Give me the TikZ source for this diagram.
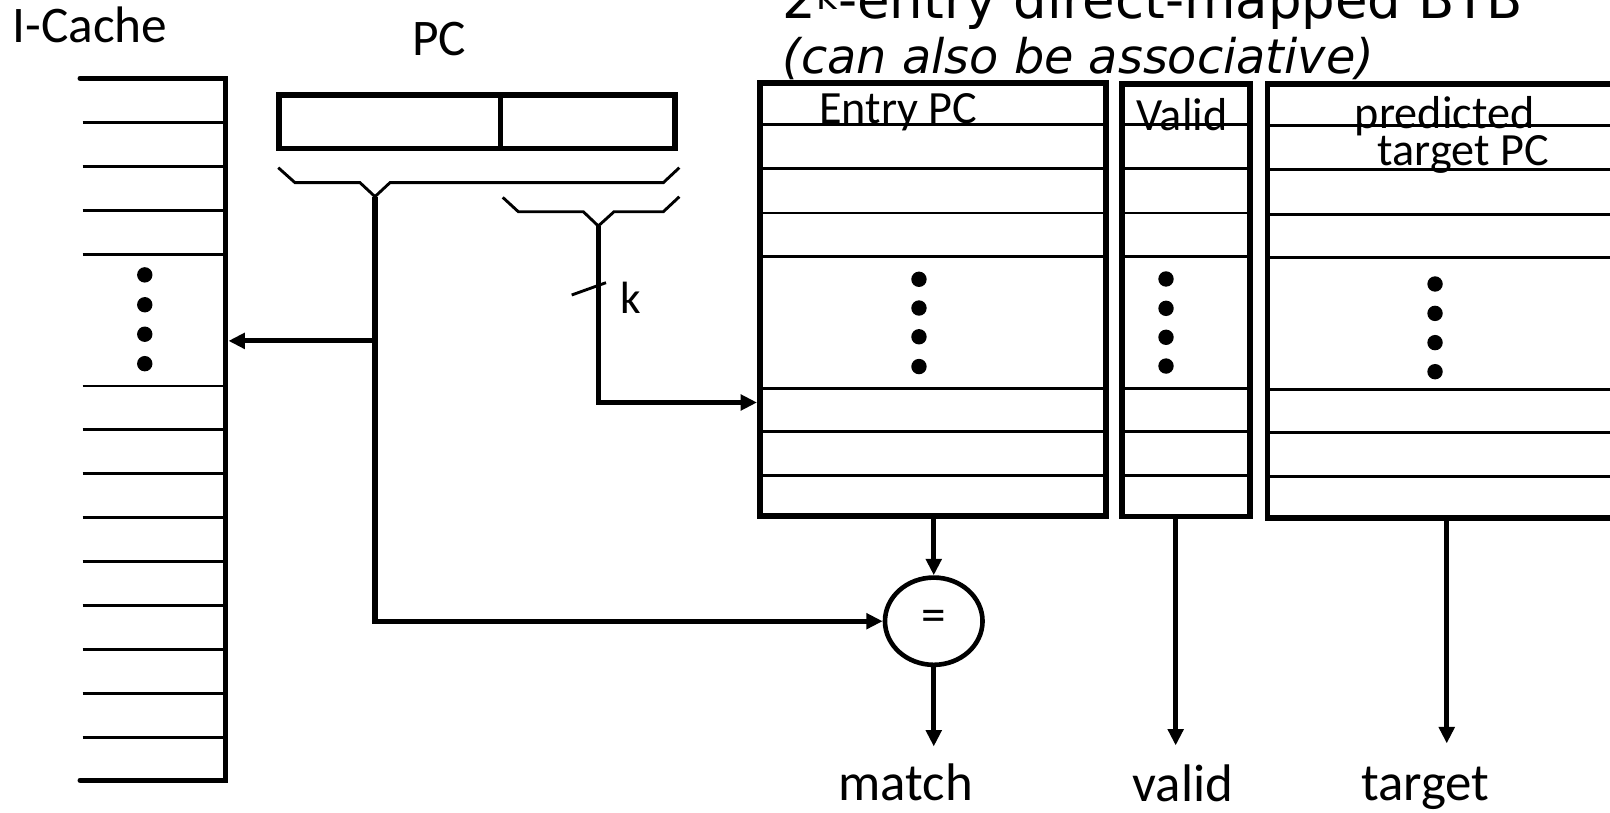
\documentclass[tikz,border=0pt]{standalone}
\usepackage{fontspec}
\setmainfont{Carlito}[Ligatures=NoCommon]
\newfontfamily\titlefont{DejaVu Sans}
\usetikzlibrary{arrows.meta,shapes.geometric}
\begin{document}
\begin{tikzpicture}[x=1pt,y=-1pt,
  thickbox/.style={draw,line width=5.5pt,inner sep=0pt,outer sep=2.75pt},
  rowline/.style={line width=2.8pt},
  brace/.style={line width=2.8pt},
  conn/.style={line width=5pt},
  arr/.style={conn,-{Triangle[length=16pt,width=15pt]}},
  lbl/.style={inner sep=0pt,font=\fontsize{50}{60}\selectfont},
  hdr/.style={inner sep=0pt,font=\fontsize{45}{54}\selectfont},
  outl/.style={inner sep=0pt,font=\fontsize{51.5}{62}\selectfont},
]
\useasboundingbox (0,0) rectangle (1568,791);
\clip (0,0) rectangle (1568,791);

% ---------- instruction cache ----------
\node[lbl,anchor=base west] (iclbl) at (12,41) {I-Cache};
\draw[line width=5pt,line cap=round] (78,76.3) -- (220,76.3) -- (220,760) -- (78,760);
\foreach \n in {1,2,3,4,7,8,9,10,11,12,13,14,15}
  \draw[rowline] (80.5,{76.3+42.8*\n}) -- (219,{76.3+42.8*\n});
\foreach \y in {267.7,296.8,325.5,354.2}
  \fill (141,\y) circle (7.5pt);
\coordinate (icport) at (222.5,332);

% ---------- program counter ----------
\node[lbl,anchor=base] (pclbl) at (427.5,54) {PC};
\node[thickbox,minimum width=385.4pt,minimum height=52pt] (pc) at (464.7,118.5) {};
\coordinate (pcdiv) at (487.6,118.5);
\draw[line width=5.5pt] (pcdiv |- pc.north) -- (pcdiv |- pc.south);

% field braces
\draw[brace] (271,163.3) -- (287.3,177.9) -- (350.6,177.9) -- (365.2,191.5)
  -- (379.8,177.9) -- (646,177.9) -- (661.6,163.3);
\coordinate (hi) at (365.2,191.5);
\draw[brace] (489.6,192.2) -- (504.8,206.2) -- (568.1,206.2) -- (582.7,220.1)
  -- (598,206.2) -- (646,206.2) -- (661.6,191.6);
\coordinate (lo) at (582.7,220.1);

% ---------- BTB title ----------
\node[anchor=base west,inner sep=0pt,font=\titlefont\fontsize{51.5}{62}\selectfont] (title)
  at (762,18) {2\textsuperscript{k}-entry direct-mapped BTB};
\node[anchor=base west,inner sep=0pt,font=\titlefont\fontsize{46.5}{56}\selectfont\itshape] (sub)
  at (762,72) {(can also be associative)};

% ---------- BTB columns ----------
\node[thickbox,minimum width=337pt,minimum height=421.5pt] (epc) at (908.5,291.75) {};
\node[thickbox,minimum width=125pt,minimum height=421pt] (vld) at (1155,292.5) {};
\node[thickbox,minimum width=386pt,minimum height=423pt] (tgt) at (1427.5,293) {};

\foreach \y in {121.5,164.5,207.5,250,378,420.5,463} {
  \draw[rowline] (740,\y) -- (1077,\y);
  \draw[rowline] (1092.6,\y) -- (1217.5,\y);
  \draw[rowline] (1234.5,{\y+1}) -- (1620,{\y+1});
}
\foreach \y in {272,300,328,357} \fill (895,\y) circle (7.5pt);
\foreach \y in {271.7,300.3,328.5,356.5} \fill (1135.6,\y) circle (7.5pt);
\foreach \y in {276.6,305.2,333.7,362} \fill (1397.6,\y) circle (7.5pt);

\node[hdr,anchor=base] (epch) at (875,120) {Entry PC};
\node[hdr,anchor=base] (vldh) at (1151,127) {Valid};
\node[hdr,anchor=base] (tgth1) at (1407,125) {predicted};
\node[hdr,anchor=base] (tgth2) at (1425,161) {target PC};

% ---------- comparator ----------
\node[draw,ellipse,line width=4.5pt,minimum width=95pt,minimum height=85pt,inner sep=0pt,
  font=\fontsize{48}{58}\selectfont] (eq) at (909.4,605) {=};

% ---------- connections ----------
\coordinate (idx) at (582.7,392);
\draw[arr] (lo) -- (idx) -- (idx -| epc.west);
\draw[brace] (556.8,287.3) -- (590.2,275.3);
\node[inner sep=0pt,anchor=base west,font=\fontsize{44}{52}\selectfont] (klbl) at (604,305) {k};

\coordinate (split) at (365.2,332);
\coordinate (tagbend) at (365.2,605);
\draw[arr] (hi) -- (split) -- (icport);
\draw[arr] (split) -- (tagbend) -- (eq.west);

\draw[arr] (epc.south -| eq.north) -- (eq.north);
\coordinate (mout) at (909.4,727);
\draw[arr] (eq.south) -- (mout);
\coordinate (vout) at (1145,726);
\draw[arr] (vout |- vld.south) -- (vout);
\coordinate (tout) at (1409,724);
\draw[arr] (tout |- tgt.south) -- (tout);

% ---------- outputs ----------
\node[outl,anchor=base] (match) at (882,780) {match};
\node[outl,anchor=base] (validout) at (1152,781) {valid};
\node[outl,anchor=base] (targetout) at (1388,780) {target};
\end{tikzpicture}
\end{document}
